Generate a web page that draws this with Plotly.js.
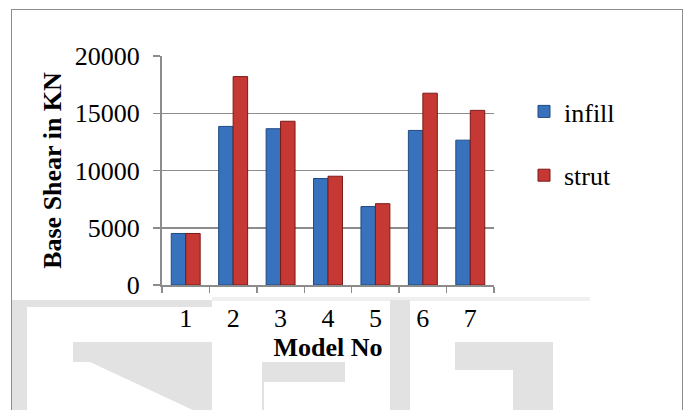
<!DOCTYPE html>
<html>
<head>
<meta charset="utf-8">
<script src="https://cdn.plot.ly/plotly-3.0.1.min.js"></script>
<style>
  html, body { margin: 0; padding: 0; background: #fff; overflow: hidden; }
  #frame { position: absolute; left: 11px; top: 9px; width: 672px; height: 430px; border: 1.5px solid #8c8c8c; box-sizing: border-box; }
  #chart { position: absolute; left: 0; top: 0; width: 684px; height: 410px; }
</style>
</head>
<body>
<div id="frame"></div>
<div id="chart"></div>
<script>
// Base shear per model, infill frame vs. equivalent strut model
const models = ['1', '2', '3', '4', '5', '6', '7'];
const infill = [4500, 13850, 13650, 9300, 6850, 13500, 12650];
const strut  = [4500, 18200, 14300, 9500, 7100, 16750, 15250];
const yTicks = [0, 5000, 10000, 15000, 20000];

const serif = '"Times New Roman", "Liberation Serif", Times, serif';

// plot area in pixels (used to place the background decoration)
const W = 684, H = 410;
const M = { l: 162, r: 190, t: 56, b: 125 };
const pw = W - M.l - M.r, ph = H - M.t - M.b;
const px = v => (v - M.l) / pw;
const py = v => (H - M.b - v) / ph;

function rect(x0, y0, x1, y1, color) {
  return { type: 'rect', xref: 'paper', yref: 'paper', layer: 'below',
           x0: px(x0), x1: px(x1), y0: py(y1), y1: py(y0),
           fillcolor: color, line: { width: 0 } };
}
function poly(pts, color) {
  const d = pts.map((p, i) => (i ? 'L' : 'M') + px(p[0]) + ',' + py(p[1])).join(' ') + ' Z';
  return { type: 'path', xref: 'paper', yref: 'paper', layer: 'below',
           path: d, fillcolor: color, line: { width: 0 } };
}

// faint grey backdrop lettering along the bottom of the figure
const wm = '#e2e2e2';
const backdrop = [
  rect(12, 300, 27, 412, wm),
  rect(12, 300, 212, 307, wm),
  rect(73, 342, 212, 362, wm),
  poly([[90, 362], [212, 362], [212, 412], [197, 412]], wm),
  rect(262, 362, 345, 382, wm),
  rect(262, 382, 264, 412, wm),
  rect(212, 297, 590, 301, '#f0f0f0'),
  rect(390, 300, 410, 412, wm),
  rect(455, 342, 553, 370, wm),
  rect(513, 370, 553, 412, wm)
];

const traces = [
  {
    type: 'bar', name: 'infill', x: models, y: infill, legendgroup: 'a',
    marker: { color: '#3872bc', line: { color: '#1f4a82', width: 1 } },
    hoverinfo: 'x+y'
  },
  {
    type: 'bar', name: 'strut', x: models, y: strut, legendgroup: 'b',
    marker: { color: '#c63833', line: { color: '#7a1a17', width: 1 } },
    hoverinfo: 'x+y'
  }
];

const tickFont = { family: serif, size: 26, weight: 400, color: '#000' };
const titleFont = { family: serif, size: 26, weight: 700, color: '#000' };

const layout = {
  width: W, height: H,
  margin: M,
  paper_bgcolor: 'rgba(0,0,0,0)', plot_bgcolor: 'rgba(0,0,0,0)',
  barmode: 'group', bargap: 0.39, bargroupgap: 0,
  font: { family: serif, size: 26, color: '#000' },
  shapes: backdrop,
  xaxis: {
    type: 'category',
    showline: true, linecolor: '#8c8c8c', linewidth: 2,
    ticks: 'outside', tickson: 'boundaries', ticklen: 6, tickcolor: '#8c8c8c', tickwidth: 1.5,
    ticklabelstandoff: 9,
    showgrid: false,
    tickfont: tickFont,
    title: { text: 'Model No', font: titleFont, standoff: 4 }
  },
  yaxis: {
    range: [0, 20000], tickvals: yTicks, ticktext: yTicks.map(String),
    showline: true, linecolor: '#8c8c8c', linewidth: 2,
    ticks: 'outside', ticklen: 7, tickcolor: '#8c8c8c', tickwidth: 1.5,
    ticklabelstandoff: 8,
    showgrid: true, gridcolor: '#8c8c8c', gridwidth: 1.5, zeroline: false,
    tickfont: tickFont,
    title: { text: 'Base Shear in KN', font: titleFont, standoff: 6 }
  },
  showlegend: true,
  legend: {
    x: px(524), y: py(88), xanchor: 'left', yanchor: 'top',
    font: tickFont,
    tracegroupgap: 27, itemwidth: 30, bgcolor: 'rgba(0,0,0,0)'
  }
};

Plotly.newPlot('chart', traces, layout, { displayModeBar: false, staticPlot: true });
</script>
</body>
</html>
